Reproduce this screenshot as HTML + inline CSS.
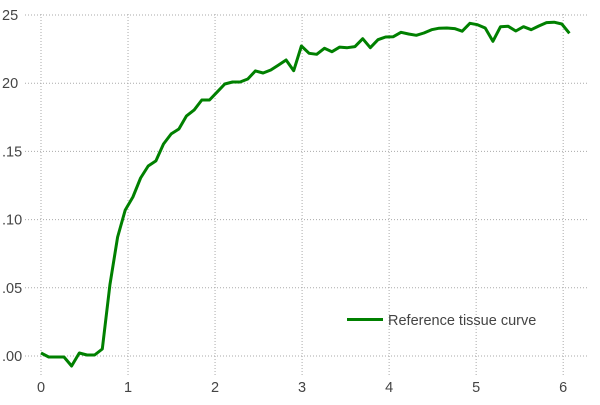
<!DOCTYPE html>
<html><head><meta charset="utf-8"><style>
body{margin:0;background:#fff;width:600px;height:400px;overflow:hidden}
svg text{font-family:"Liberation Sans","DejaVu Sans",sans-serif;fill:#444}
</style></head><body>
<svg id="chart" width="600" height="400">
<g id="grid"></g>
<g id="axes"></g>
<g id="series"></g>
<g>
<line x1="347" y1="319.5" x2="383" y2="319.5" stroke="#008000" stroke-width="3"/>
<text x="388" y="325" font-size="14.5">Reference tissue curve</text>
</g>
</svg>
<script>
const xTicks=[0,1,2,3,4,5,6];
const yTicks=[0,0.05,0.10,0.15,0.20,0.25];
const yTickLabels=[".00",".05",".10",".15","20","25"];
const xStep=0.088;
const values=[.0022,-.0007,-.0007,-.0007,-.0073,.0022,.0007,.0007,.0051,.0521,.0872,.1070,.1166,.1305,.1393,.1430,.1554,.1628,.1664,.1760,.1804,.1877,.1877,.1935,.1994,.2009,.2009,.2031,.2090,.2075,.2097,
.2133,.2170,.2092,.2273,.2219,.2212,.2256,.2231,.2265,.2260,.2268,.2326,.2260,.2319,.2339,.2341,.2373,.2361,.2351,.2368,.2392,.2403,.2405,.2400,.2381,.2439,.2429,.2405,.2307,.2414,.2417,.2383,.2414,.2392,.2419,.2444,.2447,.2434,.2366];
const NS="http://www.w3.org/2000/svg";
function xs(v){return 41+v*87.03;}
function ys(v){return 356-v*1364;}
function mk(tag,attrs,parent){const e=document.createElementNS(NS,tag);for(const k in attrs)e.setAttribute(k,attrs[k]);parent.appendChild(e);return e;}
const grid=document.getElementById('grid'),axes=document.getElementById('axes'),series=document.getElementById('series');
yTicks.forEach((t,i)=>{
  const l=mk('line',{x1:25,x2:589,y1:ys(t),y2:ys(t),stroke:'#aaa','stroke-width':1,'stroke-dasharray':'1,2'},grid);
  
  
  const tx=mk('text',{x:2,y:ys(t)+5,'font-size':14.5},axes);
  tx.textContent=yTickLabels[i];
  
  
});
xTicks.forEach(t=>{
  const l=mk('line',{x1:xs(t),x2:xs(t),y1:14,y2:375,stroke:'#aaa','stroke-width':1,'stroke-dasharray':'1,2'},grid);
  
  
  const tx=mk('text',{x:xs(t),y:392,'font-size':14.5,'text-anchor':'middle'},axes);
  tx.textContent=String(t);
  
  
});
const pts=values.map((v,i)=>xs(i*xStep).toFixed(1)+','+ys(v).toFixed(1)).join(' ');
const pl=mk('polyline',{points:pts,fill:'none',stroke:'#008000','stroke-width':3,'stroke-linejoin':'round'},series);


</script>
</body></html>
